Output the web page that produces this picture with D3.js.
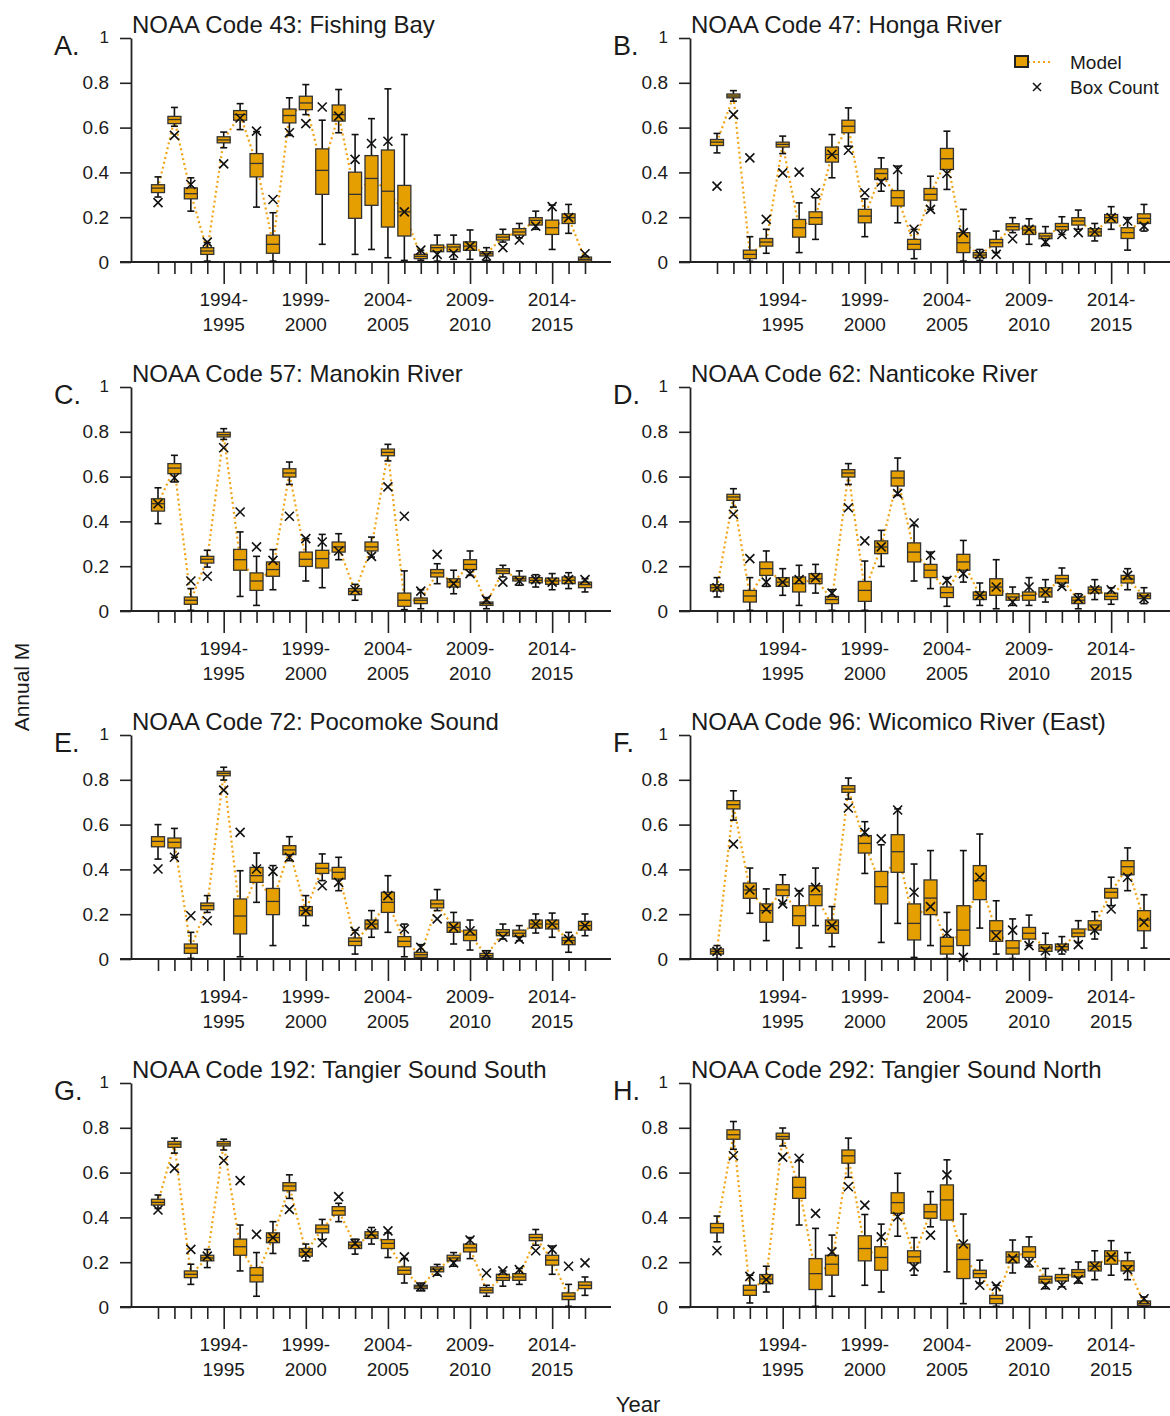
<!DOCTYPE html>
<html>
<head>
<meta charset="utf-8">
<script src="https://cdn.jsdelivr.net/npm/d3@7"></script>
<style>
  body { margin: 0; background: #fff; }
  svg text { font-family: "Liberation Sans", Arial, sans-serif; fill: #1a1a1a; }
</style>
</head>
<body>
<svg id="chart" width="1170" height="1416"></svg>
<script>
// seasons 1990-1991 ... 2016-2017, keyed by first year
const years = [1990, 1991, 1992, 1993, 1994, 1995, 1996, 1997, 1998, 1999, 2000, 2001, 2002, 2003,
               2004, 2005, 2006, 2007, 2008, 2009, 2010, 2011, 2012, 2013, 2014, 2015, 2016];
const majorYears = [1994, 1999, 2004, 2009, 2014];
const majorLabels = [["1994-", "1995"], ["1999-", "2000"], ["2004-", "2005"], ["2009-", "2010"], ["2014-", "2015"]];
const yTicks = [0, 0.2, 0.4, 0.6, 0.8, 1];
const yTickLabels = ["0", "0.2", "0.4", "0.6", "0.8", "1"];

const panelLetters = ["A.", "B.", "C.", "D.", "E.", "F.", "G.", "H."];
const panelTitles = [
  "NOAA Code 43: Fishing Bay", "NOAA Code 47: Honga River",
  "NOAA Code 57: Manokin River", "NOAA Code 62: Nanticoke River",
  "NOAA Code 72: Pocomoke Sound", "NOAA Code 96: Wicomico River (East)",
  "NOAA Code 192: Tangier Sound South", "NOAA Code 292: Tangier Sound North"
];

// each row: [whisker low, Q1, median, Q3, whisker high, box count]
const fishingBay = [
  [0.29,0.31,0.33,0.345,0.38,0.265],[0.606,0.618,0.636,0.65,0.69,0.565],[0.227,0.282,0.305,0.331,0.376,0.346],
  [0.004,0.034,0.049,0.064,0.086,0.089],[0.51,0.532,0.545,0.559,0.58,0.438],[0.591,0.633,0.658,0.676,0.707,0.643],
  [0.245,0.38,0.44,0.484,0.582,0.584],[0.004,0.039,0.079,0.12,0.22,0.279],[0.565,0.621,0.654,0.683,0.733,0.577],
  [0.658,0.68,0.71,0.74,0.792,0.618],[0.079,0.302,0.409,0.505,0.633,0.692],[0.577,0.629,0.658,0.701,0.77,0.651],
  [0.034,0.195,0.302,0.401,0.569,0.458],[0.056,0.253,0.373,0.475,0.64,0.529],[0.019,0.156,0.316,0.5,0.773,0.539],
  [0.007,0.116,0.224,0.342,0.569,0.224],[0.008,0.015,0.025,0.034,0.053,0.053],[0.004,0.046,0.064,0.076,0.12,0.034],
  [0.012,0.046,0.067,0.079,0.12,0.039],[0.012,0.052,0.071,0.09,0.143,0.071],[0.007,0.027,0.037,0.046,0.064,0.027],
  [0.089,0.098,0.111,0.123,0.146,0.064],[0.108,0.12,0.134,0.149,0.172,0.098],[0.146,0.165,0.186,0.198,0.227,0.16],
  [0.056,0.123,0.153,0.187,0.254,0.247],[0.128,0.172,0.198,0.215,0.257,0.198],[0.003,0.004,0.012,0.022,0.026,0.037]
];
const hongaRiver = [
  [0.487,0.52,0.535,0.547,0.574,0.339],[0.718,0.733,0.741,0.75,0.765,0.658],[0.003,0.015,0.034,0.053,0.113,0.465],
  [0.039,0.071,0.089,0.105,0.146,0.19],[0.484,0.513,0.525,0.535,0.562,0.398],[0.042,0.111,0.153,0.19,0.264,0.401],
  [0.101,0.168,0.198,0.224,0.287,0.309],[0.376,0.446,0.48,0.513,0.569,0.48],[0.517,0.577,0.606,0.633,0.688,0.499],
  [0.113,0.175,0.205,0.235,0.282,0.309],[0.316,0.368,0.395,0.416,0.465,0.357],[0.175,0.25,0.287,0.319,0.428,0.413],
  [0.015,0.056,0.079,0.101,0.146,0.146],[0.235,0.276,0.302,0.328,0.383,0.235],[0.324,0.413,0.461,0.507,0.584,0.395],
  [0.004,0.042,0.086,0.131,0.235,0.131],[0.007,0.019,0.031,0.042,0.056,0.034],[0.042,0.068,0.086,0.101,0.138,0.034],
  [0.131,0.143,0.158,0.171,0.198,0.104],[0.079,0.123,0.143,0.16,0.193,0.146],[0.074,0.104,0.116,0.128,0.158,0.089],
  [0.123,0.143,0.158,0.172,0.202,0.123],[0.146,0.165,0.183,0.198,0.232,0.131],[0.094,0.116,0.134,0.149,0.172,0.135],
  [0.146,0.175,0.198,0.212,0.247,0.198],[0.053,0.105,0.131,0.153,0.198,0.183],[0.138,0.172,0.195,0.215,0.257,0.16]
];
const manokinRiver = [
  [0.39,0.446,0.479,0.501,0.55,0.479],[0.576,0.613,0.638,0.658,0.695,0.595],[0.003,0.03,0.048,0.0625,0.1,0.134],
  [0.196,0.214,0.231,0.244,0.271,0.155],[0.766,0.777,0.787,0.798,0.814,0.729],[0.065,0.182,0.229,0.275,0.353,0.442],
  [0.025,0.092,0.134,0.17,0.244,0.286],[0.095,0.155,0.185,0.219,0.274,0.226],[0.565,0.598,0.616,0.635,0.665,0.423],
  [0.134,0.199,0.231,0.263,0.323,0.323],[0.104,0.192,0.234,0.271,0.342,0.308],[0.229,0.263,0.286,0.308,0.345,0.268],
  [0.048,0.073,0.088,0.1,0.119,0.095],[0.241,0.268,0.286,0.308,0.33,0.244],[0.67,0.693,0.708,0.723,0.744,0.554],
  [0.006,0.021,0.048,0.08,0.179,0.423],[0.01,0.033,0.048,0.058,0.095,0.089],[0.122,0.152,0.17,0.185,0.211,0.253],
  [0.077,0.107,0.129,0.144,0.182,0.122],[0.159,0.185,0.208,0.229,0.268,0.167],[0.01,0.025,0.033,0.04,0.06,0.051],
  [0.152,0.167,0.179,0.189,0.204,0.129],[0.115,0.134,0.144,0.155,0.179,0.134],[0.107,0.126,0.137,0.149,0.162,0.14],
  [0.095,0.119,0.134,0.147,0.167,0.129],[0.1,0.122,0.137,0.152,0.171,0.14],[0.085,0.104,0.118,0.129,0.144,0.14]
];
const nanticokeRiver = [
  [0.0625,0.089,0.104,0.118,0.149,0.104],[0.464,0.494,0.509,0.521,0.546,0.432],[0.003,0.04,0.067,0.092,0.149,0.234],
  [0.11,0.159,0.189,0.219,0.268,0.129],[0.07,0.11,0.129,0.149,0.189,0.129],[0.025,0.085,0.122,0.152,0.204,0.14],
  [0.08,0.122,0.144,0.167,0.208,0.149],[0.003,0.033,0.051,0.065,0.095,0.08],[0.565,0.598,0.616,0.631,0.658,0.461],
  [0.003,0.043,0.092,0.132,0.223,0.313],[0.199,0.256,0.286,0.313,0.36,0.286],[0.516,0.558,0.594,0.625,0.683,0.524],
  [0.134,0.219,0.263,0.304,0.382,0.393],[0.1,0.149,0.182,0.208,0.263,0.249],[0.021,0.06,0.082,0.107,0.149,0.137],
  [0.129,0.182,0.219,0.253,0.315,0.167],[0.025,0.051,0.07,0.085,0.125,0.07],[0.01,0.07,0.107,0.144,0.229,0.107],
  [0.025,0.048,0.0625,0.077,0.107,0.04],[0.025,0.048,0.07,0.085,0.149,0.107],[0.04,0.0625,0.085,0.104,0.14,0.085],
  [0.11,0.125,0.144,0.159,0.192,0.11],[0.01,0.033,0.048,0.0625,0.077,0.055],[0.051,0.08,0.095,0.107,0.14,0.095],
  [0.03,0.051,0.065,0.08,0.104,0.095],[0.095,0.125,0.143,0.159,0.189,0.159],[0.033,0.055,0.067,0.08,0.104,0.055]
];
const pocomokeSound = [
  [0.446,0.501,0.525,0.546,0.6,0.402],[0.454,0.496,0.521,0.54,0.583,0.454],[0.003,0.025,0.049,0.067,0.119,0.193],
  [0.208,0.22,0.238,0.25,0.283,0.171],[0.799,0.818,0.829,0.838,0.856,0.754],[0.01,0.112,0.192,0.268,0.394,0.565],
  [0.253,0.342,0.372,0.409,0.473,0.402],[0.06,0.198,0.257,0.315,0.417,0.391],[0.439,0.466,0.487,0.506,0.546,0.454],
  [0.149,0.193,0.216,0.234,0.283,0.216],[0.35,0.382,0.405,0.427,0.469,0.327],[0.305,0.357,0.387,0.409,0.454,0.342],
  [0.022,0.06,0.079,0.094,0.129,0.124],[0.097,0.134,0.156,0.174,0.216,0.156],[0.119,0.208,0.253,0.298,0.372,0.283],
  [0.01,0.055,0.079,0.1,0.156,0.134],[0.002,0.007,0.019,0.03,0.064,0.052],[0.216,0.228,0.246,0.263,0.31,0.179],
  [0.067,0.119,0.141,0.164,0.208,0.141],[0.04,0.082,0.107,0.129,0.174,0.126],[0.002,0.007,0.015,0.025,0.037,0.019],
  [0.089,0.104,0.119,0.131,0.156,0.097],[0.082,0.1,0.115,0.129,0.149,0.089],[0.116,0.138,0.156,0.174,0.201,0.156],
  [0.097,0.134,0.156,0.174,0.205,0.156],[0.03,0.064,0.082,0.097,0.119,0.089],[0.104,0.129,0.149,0.168,0.201,0.149]
];
const wicomicoEast = [
  [0.002,0.022,0.034,0.045,0.06,0.034],[0.62,0.67,0.689,0.707,0.751,0.513],[0.204,0.271,0.308,0.339,0.406,0.308],
  [0.082,0.164,0.216,0.246,0.313,0.223],[0.246,0.283,0.308,0.332,0.376,0.246],[0.049,0.149,0.193,0.238,0.305,0.298],
  [0.149,0.238,0.287,0.327,0.406,0.32],[0.055,0.115,0.149,0.174,0.234,0.149],[0.714,0.744,0.759,0.774,0.808,0.674],
  [0.382,0.473,0.516,0.551,0.613,0.565],[0.074,0.246,0.323,0.391,0.51,0.536],[0.159,0.387,0.479,0.555,0.67,0.665],
  [0.007,0.085,0.159,0.246,0.424,0.298],[0.06,0.198,0.272,0.353,0.484,0.234],[0.002,0.022,0.057,0.097,0.208,0.115],
  [0.002,0.06,0.129,0.238,0.484,0.007],[0.138,0.265,0.35,0.417,0.558,0.365],[0.022,0.079,0.126,0.171,0.26,0.104],
  [0.002,0.022,0.049,0.082,0.179,0.129],[0.06,0.089,0.115,0.141,0.196,0.06],[0.002,0.034,0.049,0.064,0.115,0.037],
  [0.022,0.04,0.055,0.067,0.1,0.049],[0.074,0.1,0.116,0.134,0.171,0.064],[0.089,0.129,0.152,0.171,0.211,0.129],
  [0.238,0.272,0.298,0.315,0.365,0.223],[0.305,0.376,0.412,0.439,0.496,0.365],[0.049,0.126,0.174,0.216,0.287,0.164]
];
const tangierSouth = [
  [0.44,0.455,0.467,0.481,0.5,0.433],[0.687,0.713,0.727,0.739,0.754,0.619],[0.101,0.131,0.146,0.161,0.191,0.257],
  [0.176,0.206,0.219,0.231,0.257,0.227],[0.701,0.719,0.728,0.739,0.749,0.654],[0.161,0.231,0.269,0.303,0.366,0.564],
  [0.048,0.112,0.142,0.176,0.243,0.324],[0.239,0.287,0.31,0.331,0.381,0.31],[0.485,0.519,0.54,0.555,0.59,0.436],
  [0.206,0.227,0.245,0.261,0.281,0.239],[0.301,0.331,0.349,0.366,0.391,0.287],[0.381,0.41,0.43,0.448,0.463,0.493],
  [0.236,0.261,0.276,0.29,0.303,0.284],[0.281,0.306,0.321,0.336,0.355,0.328],[0.221,0.261,0.284,0.301,0.331,0.34],
  [0.107,0.146,0.164,0.179,0.216,0.224],[0.072,0.082,0.09,0.097,0.107,0.09],[0.142,0.157,0.169,0.179,0.19,0.154],
  [0.182,0.206,0.219,0.231,0.243,0.197],[0.216,0.246,0.264,0.281,0.31,0.299],[0.048,0.063,0.075,0.087,0.097,0.152],
  [0.093,0.119,0.131,0.146,0.161,0.161],[0.101,0.119,0.134,0.149,0.172,0.167],[0.276,0.296,0.31,0.324,0.346,0.251],
  [0.146,0.187,0.209,0.231,0.272,0.257],[0.003,0.033,0.048,0.063,0.101,0.182],[0.052,0.082,0.097,0.112,0.134,0.197]
];
const tangierNorth = [
  [0.291,0.331,0.354,0.373,0.406,0.251],[0.704,0.749,0.769,0.791,0.828,0.675],[0.018,0.052,0.075,0.097,0.142,0.137],
  [0.067,0.104,0.125,0.145,0.182,0.122],[0.719,0.749,0.761,0.776,0.799,0.669],[0.366,0.485,0.534,0.579,0.654,0.664],
  [0.003,0.078,0.149,0.216,0.351,0.418],[0.048,0.142,0.191,0.231,0.321,0.246],[0.579,0.642,0.675,0.701,0.754,0.537],
  [0.097,0.206,0.261,0.318,0.413,0.455],[0.067,0.164,0.221,0.269,0.37,0.313],[0.316,0.418,0.466,0.51,0.597,0.403],
  [0.142,0.197,0.224,0.251,0.31,0.179],[0.358,0.396,0.425,0.458,0.515,0.321],[0.157,0.388,0.478,0.545,0.657,0.59],
  [0.015,0.127,0.212,0.281,0.415,0.281],[0.107,0.131,0.149,0.164,0.209,0.097],[0.003,0.015,0.037,0.052,0.097,0.093],
  [0.152,0.197,0.224,0.246,0.299,0.216],[0.179,0.221,0.246,0.269,0.313,0.197],[0.082,0.107,0.124,0.137,0.172,0.097],
  [0.09,0.116,0.131,0.145,0.172,0.097],[0.107,0.134,0.154,0.167,0.201,0.122],[0.122,0.161,0.182,0.201,0.251,0.182],
  [0.142,0.191,0.227,0.251,0.296,0.224],[0.122,0.161,0.184,0.206,0.243,0.167],[0.002,0.007,0.015,0.027,0.045,0.037]
];

const panelData = [fishingBay, hongaRiver, manokinRiver, nanticokeRiver,
                   pocomokeSound, wicomicoEast, tangierSouth, tangierNorth];

const boxFill = "#E69F00";
const boxStroke = "#333";
const dotColor = "#F2A516";

const svg = d3.select("#chart");

const colX = [131, 690];           // y-axis position of each column
const rowTop = [38, 387, 735, 1083]; // pixel of y = 1 in each row
const plotH = 224;

panelData.forEach((data, i) => {
  const axisX = colX[i % 2];
  const y1 = rowTop[Math.floor(i / 2)];
  const y0 = y1 + plotH;

  const x = d3.scaleLinear().domain([1990, 2016]).range([axisX + 27, axisX + 454]);
  const y = d3.scaleLinear().domain([0, 1]).range([y0, y1]);

  const g = svg.append("g");

  // y axis
  const yAxis = g.append("g")
    .attr("transform", `translate(${axisX},0)`)
    .call(d3.axisLeft(y).tickValues(yTicks).tickSize(11).tickPadding(11).tickSizeOuter(0)
      .tickFormat((d, k) => yTickLabels[k]));
  yAxis.select(".domain").attr("stroke", "#222").attr("stroke-width", 1.8);
  yAxis.selectAll(".tick line").attr("stroke", "#222").attr("stroke-width", 1.6);
  yAxis.selectAll(".tick text").style("font-size", d => d === 1 ? "17px" : "19px")
    .attr("dy", d => d === 1 ? "0.25em" : "0.32em");

  // x axis: a base line running past the plotted years
  g.append("line")
    .attr("x1", axisX - 11).attr("x2", axisX + 480)
    .attr("y1", y0).attr("y2", y0)
    .attr("stroke", "#222").attr("stroke-width", 1.8);

  const xAxis = g.append("g")
    .attr("transform", `translate(0,${y0})`)
    .call(d3.axisBottom(x).tickValues(years).tickSize(12).tickFormat(""));
  xAxis.select(".domain").remove();
  xAxis.selectAll(".tick line")
    .attr("y2", d => majorYears.includes(d) ? 22 : 12)
    .attr("stroke", "#222").attr("stroke-width", 1.6);

  majorYears.forEach((yr, k) => {
    const t = g.append("text")
      .attr("x", x(yr)).attr("text-anchor", "middle")
      .style("font-size", "19px");
    t.append("tspan").attr("x", x(yr)).attr("y", y0 + 44).text(majorLabels[k][0]);
    t.append("tspan").attr("x", x(yr)).attr("y", y0 + 69).text(majorLabels[k][1]);
  });

  // title and panel letter
  g.append("text").attr("x", axisX + 1).attr("y", y1 - 5)
    .style("font-size", "24px").text(panelTitles[i]);
  g.append("text").attr("x", axisX - 77).attr("y", y1 + 17)
    .style("font-size", "27px").text(panelLetters[i]);

  const rows = data.map((r, k) => ({ year: years[k], lo: r[0], q1: r[1], med: r[2], q3: r[3], hi: r[4], count: r[5] }));

  // dotted model line through medians
  g.append("path")
    .datum(rows)
    .attr("fill", "none")
    .attr("stroke", dotColor)
    .attr("stroke-width", 2.2)
    .attr("stroke-dasharray", "2,3")
    .attr("d", d3.line().x(d => x(d.year)).y(d => y(d.med)));

  const bw = 13, cw = 7;
  const box = g.append("g").selectAll("g").data(rows).join("g");

  box.append("line")
    .attr("x1", d => x(d.year)).attr("x2", d => x(d.year))
    .attr("y1", d => y(d.lo)).attr("y2", d => y(d.hi))
    .attr("stroke", "#111").attr("stroke-width", 1.6);
  box.append("line")
    .attr("x1", d => x(d.year) - cw / 2).attr("x2", d => x(d.year) + cw / 2)
    .attr("y1", d => y(d.hi)).attr("y2", d => y(d.hi))
    .attr("stroke", "#111").attr("stroke-width", 1.6);
  box.append("line")
    .attr("x1", d => x(d.year) - cw / 2).attr("x2", d => x(d.year) + cw / 2)
    .attr("y1", d => y(d.lo)).attr("y2", d => y(d.lo))
    .attr("stroke", "#111").attr("stroke-width", 1.6);
  box.append("rect")
    .attr("x", d => x(d.year) - bw / 2)
    .attr("y", d => y(d.q3))
    .attr("width", bw)
    .attr("height", d => y(d.q1) - y(d.q3))
    .attr("fill", boxFill)
    .attr("stroke", boxStroke).attr("stroke-width", 1.3);
  box.append("line")
    .attr("x1", d => x(d.year) - bw / 2).attr("x2", d => x(d.year) + bw / 2)
    .attr("y1", d => y(d.med)).attr("y2", d => y(d.med))
    .attr("stroke", boxStroke).attr("stroke-width", 1.3);

  // box count crosses
  const s = 4.5;
  g.append("g").selectAll("path").data(rows).join("path")
    .attr("d", d => {
      const cx = x(d.year), cy = y(d.count);
      return `M${cx - s},${cy - s}L${cx + s},${cy + s}M${cx - s},${cy + s}L${cx + s},${cy - s}`;
    })
    .attr("stroke", "#111").attr("stroke-width", 1.6).attr("fill", "none");
});

// legend (panel B)
const leg = svg.append("g");
leg.append("line").attr("x1", 1028).attr("x2", 1052).attr("y1", 62).attr("y2", 62)
  .attr("stroke", dotColor).attr("stroke-width", 2.2).attr("stroke-dasharray", "2,3");
leg.append("rect").attr("x", 1015).attr("y", 56).attr("width", 13).attr("height", 11)
  .attr("fill", boxFill).attr("stroke", "#222").attr("stroke-width", 2);
leg.append("path")
  .attr("d", "M1033,83L1041,91M1033,91L1041,83")
  .attr("stroke", "#111").attr("stroke-width", 1.5);
leg.append("text").attr("x", 1070).attr("y", 69).style("font-size", "19px").text("Model");
leg.append("text").attr("x", 1070).attr("y", 94).style("font-size", "19px").text("Box Count");

// shared axis titles
svg.append("text").attr("transform", "translate(29,687) rotate(-90)")
  .attr("text-anchor", "middle").style("font-size", "21px").text("Annual M");
svg.append("text").attr("x", 638).attr("y", 1412)
  .attr("text-anchor", "middle").style("font-size", "22px").text("Year");
</script>
</body>
</html>
